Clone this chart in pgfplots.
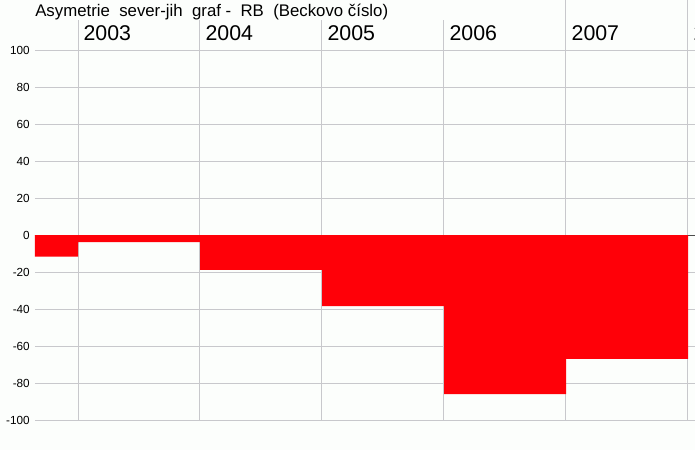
\documentclass[border=0pt]{standalone}
\usepackage{fontspec}
\setmainfont{Liberation Sans}
\usepackage{pgfplots}
\pgfplotsset{compat=1.18}
\definecolor{gridc}{RGB}{200,200,204}
\definecolor{bg}{RGB}{252,254,252}
\definecolor{barred}{RGB}{255,0,8}

\begin{document}
\begin{tikzpicture}
% 1 px of the reference = 0.75pt
\fill[bg] (-26.25pt,-22.5pt) rectangle (495pt,315pt);
\begin{axis}[
  at={(0,0)}, anchor=south west,
  scale only axis, width=495pt, height=315pt,
  xmin=2002.6475, xmax=2008.057,
  ymin=-100, ymax=127.03,
  axis line style={draw=none},
  major tick length=0pt,
  xtick={2003,...,2008}, xticklabels={},
  ytick={-100,-80,...,100},
  grid=major, grid style={gridc, line width=0.75pt},
  yticklabel style={font=\fontsize{8.8}{10}\selectfont, inner sep=0pt, xshift=-3.75pt},
  /pgf/number format/assume math mode=true,
  clip=false,
]
\draw[black!70, line width=0.75pt] (axis cs:2002.6475,0) -- (axis cs:2008.057,0);
\addplot[const plot, fill=barred, draw=none] coordinates {
  (2002.6475,-11.7) (2003,-3.8) (2004,-18.9) (2005,-38.4) (2006,-86) (2007,-67) (2008,-67)
} \closedcycle;
\pgfplotsinvokeforeach{2003,2004,2005,2006,2007,2008}{
  \node[anchor=base west, inner sep=0pt, xshift=4pt, font=\fontsize{16}{18}\selectfont]
    at (axis cs:#1,105.4) {#1};
}
\end{axis}
\fill[bg] (-26.25pt,315pt) rectangle (363.75pt,300pt);
\node[anchor=base west, inner sep=0pt, font=\fontsize{12.6}{14}\selectfont]
  at (0pt,302.25pt) {Asymetrie\ \ sever-jih\ \ graf\ -\ \ RB\ \ (Beckovo číslo)};
\pgfresetboundingbox
\useasboundingbox (-26.25pt,-22.5pt) rectangle (495pt,315pt);
\end{tikzpicture}
\end{document}
